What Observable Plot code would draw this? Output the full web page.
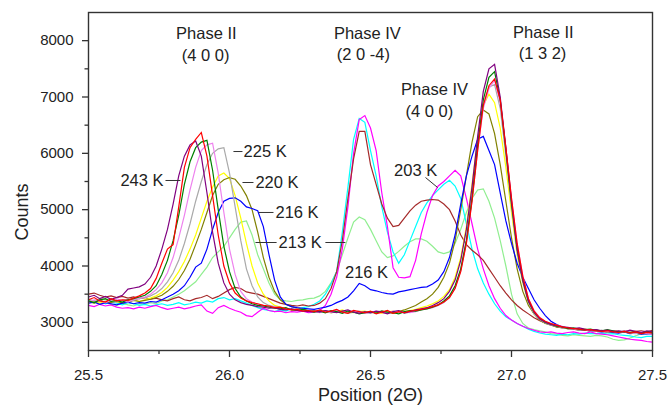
<!DOCTYPE html>
<html><head><meta charset="utf-8">
<script src="https://cdn.jsdelivr.net/npm/d3@7"></script>
<script src="https://cdn.jsdelivr.net/npm/@observablehq/plot@0.6"></script>
<style>body{margin:0;background:#fff}#chart{width:670px;height:410px}</style>
</head><body><div id="chart"></div>
<script>
// 2θ sampling positions
const twoTheta = [
25.50,25.52,25.54,25.56,25.58,25.60,25.62,25.64,25.66,25.68,
25.70,25.72,25.74,25.76,25.78,25.80,25.82,25.84,25.86,25.88,
25.90,25.92,25.94,25.96,25.98,26.00,26.02,26.04,26.06,26.08,
26.10,26.12,26.14,26.16,26.18,26.20,26.22,26.24,26.26,26.28,
26.30,26.32,26.34,26.36,26.38,26.40,26.42,26.44,26.46,26.48,
26.50,26.52,26.54,26.56,26.58,26.60,26.62,26.64,26.66,26.68,
26.70,26.72,26.74,26.76,26.78,26.80,26.82,26.84,26.86,26.88,
26.90,26.92,26.94,26.96,26.98,27.00,27.02,27.04,27.06,27.08,
27.10,27.12,27.14,27.16,27.18,27.20,27.22,27.24,27.26,27.28,
27.30,27.32,27.34,27.36,27.38,27.40,27.42,27.44,27.46,27.48,
27.50];

// Counts of each scan (one per temperature)
const purple = [
3450,3480,3420,3460,3410,3440,3480,3590,3610,3630,
3680,3800,4000,4300,4650,5100,5600,5950,6150,6220,
5950,5300,4600,4050,3700,3500,3400,3350,3320,3300,
3280,3270,3250,3260,3230,3220,3240,3210,3200,3190,
3200,3180,3210,3190,3170,3200,3220,3180,3160,3190,
3170,3200,3180,3150,3190,3210,3170,3190,3220,3240,
3260,3300,3350,3420,3550,3750,4100,4650,5400,6300,
7100,7500,7580,7000,6100,5150,4300,3750,3380,3180,
3060,3000,2960,2940,2920,2910,2890,2900,2880,2860,
2870,2850,2860,2840,2850,2830,2860,2840,2820,2850,
2830];
const red = [
3400,3440,3380,3360,3420,3380,3400,3390,3430,3470,
3520,3600,3780,4050,4300,4380,5050,5750,6100,6250,
6370,5950,5250,4550,4000,3700,3520,3430,3380,3350,
3330,3300,3290,3260,3270,3240,3220,3230,3200,3210,
3190,3220,3180,3200,3230,3180,3160,3210,3190,3170,
3200,3150,3180,3210,3160,3190,3170,3200,3210,3230,
3250,3280,3310,3360,3440,3600,3900,4400,5150,6050,
6850,7200,7320,6950,6100,5200,4400,3820,3420,3200,
3080,3020,2980,2950,2920,2900,2890,2880,2860,2870,
2850,2840,2850,2830,2820,2840,2810,2830,2800,2820,
2810];
const green = [
3380,3350,3400,3420,3370,3390,3360,3400,3420,3450,
3480,3550,3650,3850,4100,4450,4900,5450,5850,6100,
6200,6230,5700,5000,4350,3900,3600,3450,3380,3330,
3300,3290,3270,3250,3240,3260,3220,3210,3230,3200,
3180,3200,3170,3210,3190,3160,3200,3180,3150,3170,
3190,3160,3200,3180,3170,3150,3190,3210,3200,3220,
3240,3270,3310,3380,3470,3650,3950,4450,5200,6150,
6950,7350,7450,6950,6050,5100,4300,3750,3380,3180,
3070,3000,2970,2930,2920,2890,2900,2880,2870,2880,
2860,2850,2870,2850,2830,2840,2820,2830,2810,2830,
2820];
const violet = [
3360,3400,3380,3350,3390,3420,3380,3360,3400,3430,
3450,3500,3580,3700,3880,4150,4500,4900,5350,5750,
6050,6150,6180,5650,4950,4300,3850,3550,3420,3360,
3320,3300,3280,3270,3250,3230,3240,3220,3200,3210,
3190,3170,3200,3180,3210,3170,3190,3200,3180,3160,
3180,3200,3170,3160,3200,3180,3190,3170,3190,3230,
3240,3260,3300,3360,3450,3620,3920,4400,5150,6050,
6800,7150,7300,6900,6100,5200,4400,3830,3420,3210,
3090,3010,2980,2950,2930,2900,2890,2880,2870,2850,
2860,2840,2850,2840,2830,2850,2830,2810,2830,2800,
2790];
const darkgray = [
3410,3380,3420,3400,3370,3360,3390,3410,3390,3420,
3440,3470,3520,3600,3720,3880,4100,4400,4750,5150,
5500,5800,6000,6080,6100,5650,5050,4450,3950,3650,
3450,3350,3300,3280,3260,3250,3230,3240,3210,3200,
3190,3210,3180,3170,3200,3190,3160,3180,3200,3170,
3160,3190,3200,3170,3180,3200,3160,3180,3200,3220,
3250,3270,3300,3350,3440,3620,3930,4450,5250,6150,
6850,7180,7220,6800,5950,5050,4250,3720,3350,3150,
3050,2990,2950,2930,2900,2890,2880,2860,2870,2850,
2840,2860,2830,2840,2820,2830,2810,2800,2820,2810,
2800];
const yellow = [
3350,3380,3340,3370,3400,3360,3340,3380,3400,3370,
3400,3430,3470,3530,3620,3750,3900,4080,4300,4550,
4850,5150,5400,5600,5650,5550,5250,4850,4400,4000,
3700,3500,3380,3300,3270,3250,3230,3220,3240,3200,
3210,3180,3200,3170,3190,3220,3180,3170,3190,3200,
3170,3190,3160,3180,3200,3170,3190,3210,3230,3260,
3290,3330,3380,3460,3580,3800,4150,4700,5450,6250,
6850,7050,6900,6450,5750,4950,4200,3700,3350,3150,
3050,2990,2960,2940,2920,2900,2880,2870,2880,2860,
2850,2840,2830,2850,2840,2820,2830,2810,2820,2800,
2810];
const olive = [
3370,3340,3390,3360,3350,3380,3340,3360,3390,3370,
3390,3410,3440,3480,3550,3640,3760,3920,4120,4380,
4650,4950,5250,5450,5530,5570,5540,5420,5250,5000,
4600,4150,3800,3550,3400,3320,3280,3250,3230,3210,
3200,3190,3210,3170,3180,3200,3170,3190,3180,3160,
3190,3170,3200,3180,3160,3190,3220,3260,3300,3360,
3420,3500,3620,3800,4050,4450,5000,5600,6200,6650,
6770,6700,6350,5800,5150,4500,3950,3550,3300,3150,
3040,2980,2950,2920,2910,2890,2880,2870,2860,2850,
2860,2840,2830,2820,2840,2830,2810,2820,2800,2810,
2800];
const blue = [
3340,3360,3320,3350,3330,3310,3340,3360,3330,3350,
3340,3370,3360,3400,3450,3500,3560,3650,3800,3980,
4050,4300,4650,4950,5150,5200,5210,5150,5050,5020,
4980,4700,4200,3750,3450,3320,3280,3260,3250,3240,
3230,3250,3270,3300,3350,3390,3450,3560,3690,3650,
3580,3560,3530,3510,3500,3540,3560,3580,3600,3620,
3630,3680,3750,3900,4150,4550,5100,5600,5950,6250,
6300,6050,5800,5300,4800,4400,4050,3800,3600,3400,
3250,3120,3020,2960,2920,2900,2880,2870,2860,2850,
2840,2830,2840,2820,2810,2830,2800,2810,2790,2800,
2790];
const lightgreen = [
3380,3350,3330,3360,3320,3300,3340,3310,3290,3330,
3320,3350,3330,3380,3400,3450,3500,3560,3640,3720,
3850,3980,4150,4250,4350,4500,4650,4780,4800,4550,
4200,3950,3700,3500,3400,3380,3370,3390,3400,3420,
3430,3470,3550,3700,3900,4200,4500,4780,4870,4820,
4650,4450,4250,4150,4180,4260,4350,4430,4480,4480,
4440,4350,4250,4220,4250,4400,4650,4950,5200,5350,
5370,5150,4850,4450,4000,3500,3150,2980,2900,2870,
2850,2830,2800,2790,2770,2760,2780,2770,2760,2750,
2770,2760,2740,2700,2680,2690,2720,2760,2800,2790,
2840];
const brown = [
3500,3520,3480,3450,3470,3440,3460,3430,3450,3420,
3440,3410,3430,3400,3380,3420,3450,3400,3380,3420,
3440,3480,3420,3460,3520,3580,3620,3600,3540,3520,
3500,3460,3420,3380,3340,3320,3300,3290,3310,3290,
3300,3340,3420,3600,3900,4450,5200,5900,6390,6390,
5800,5450,5100,4850,4700,4720,4850,4980,5080,5150,
5170,5180,5170,5100,5000,4800,4550,4380,4280,4200,
4100,3950,3800,3650,3520,3400,3300,3220,3150,3080,
3030,2990,2960,2920,2900,2890,2880,2860,2870,2850,
2840,2850,2830,2840,2820,2850,2830,2840,2850,2830,
2860];
const cyan = [
3380,3350,3400,3330,3360,3340,3310,3350,3330,3300,
3320,3290,3310,3330,3300,3320,3350,3310,3330,3360,
3340,3380,3360,3420,3440,3400,3420,3380,3340,3300,
3260,3230,3210,3190,3220,3200,3240,3230,3260,3280,
3320,3380,3500,3680,3900,4600,5400,6250,6620,6550,
6050,5600,5050,4600,4250,4050,4200,4450,4700,4950,
5120,5250,5350,5450,5520,5420,5200,4750,4300,3950,
3700,3500,3330,3200,3100,3040,2980,2930,2880,2840,
2810,2790,2780,2770,2790,2780,2800,2790,2810,2800,
2800,2810,2790,2800,2780,2770,2760,2740,2730,2750,
2750];
const magenta = [
3300,3280,3320,3290,3310,3270,3250,3260,3240,3270,
3250,3280,3300,3260,3230,3250,3270,3240,3260,3290,
3310,3200,3160,3260,3300,3250,3210,3180,3120,3100,
3180,3250,3210,3190,3200,3170,3190,3180,3200,3170,
3180,3210,3300,3500,3800,4300,5050,6000,6600,6670,
6450,6050,5300,4700,3970,3800,3790,3810,4100,4570,
4950,5250,5420,5500,5600,5700,5600,5200,4750,4300,
3950,3650,3420,3250,3120,3040,2980,2930,2890,2860,
2830,2820,2830,2810,2800,2820,2830,2810,2800,2830,
2800,2790,2780,2760,2740,2720,2700,2690,2680,2660,
2650];

// draw order (bottom to top) and colours
const seriesNames  = ["lightgreen","cyan","magenta","brown","yellow","olive","blue","darkgray","violet","green","purple","red"];
const seriesValues = [lightgreen, cyan, magenta, brown, yellow, olive, blue, darkgray, violet, green, purple, red];
const seriesColors = ["#3ad83a","#2ee2f0","#ee3ee0","#8e4632","#f0e61c","#9c8c50","#3232dc","#333333","#9050f0","#22922e","#8a1aa6","#e8141e"];

const xTicks = [25.5, 26.0, 26.5, 27.0, 27.5];
const xMinorTicks = [25.75, 26.25, 26.75, 27.25];
const yTicks = [3000, 4000, 5000, 6000, 7000, 8000];
const yMinorTicks = [3500, 4500, 5500, 6500, 7500];

// annotation texts
const phaseText = ["Phase II", "(4 0 0)", "Phase IV", "(2 0 -4)", "Phase II", "(1 3 2)", "Phase IV", "(4 0 0)"];
const phaseX    = [25.918, 25.915, 26.489, 26.475, 27.113, 27.110, 26.727, 26.709];
const phaseY    = [8127, 7736, 8127, 7754, 8145, 7772, 7133, 6742];

const tempText   = ["225 K", "220 K", "216 K", "213 K"];
const tempX      = [26.050, 26.092, 26.163, 26.174];
const tempY      = [6032, 5482, 4950, 4417];
const tempEndText = ["243 K"];
const tempEndX    = [25.766];
const tempEndY    = [5518];
const tempMidText = ["216 K", "203 K"];
const tempMidX    = [26.486, 26.660];
const tempMidY    = [3885, 5697];

const leaderX1 = [25.773, 26.014, 26.046, 26.103, 26.092, 26.340, 26.695];
const leaderX2 = [25.826, 26.046, 26.085, 26.156, 26.167, 26.411, 26.738];
const leaderY1 = [5518, 6032, 5482, 4950, 4417, 4417, 5571];
const leaderY2 = [5518, 6032, 5482, 4950, 4417, 4417, 5393];

// axis titles (placed just outside the frame)
const xTitle = "Position (2Θ)";
const yTitle = "Counts";
const yTitleAt = {x: 25.266, y: 4960};

const rows = seriesValues.flatMap((vals, s) => twoTheta.map((x, i) => ({x, y: vals[i], name: seriesNames[s]})));
const mk = (t, xs, ys) => t.map((text, i) => ({text, x: xs[i], y: ys[i]}));
const leaders = leaderX1.map((_, i) => ({x1: leaderX1[i], x2: leaderX2[i], y1: leaderY1[i], y2: leaderY2[i]}));

const font = "'Liberation Sans', Arial, Helvetica, sans-serif";
const ink = "#222";

const chart = Plot.plot({
  width: 670, height: 410,
  marginLeft: 88, marginRight: 18, marginTop: 12, marginBottom: 60,
  x: {domain: [25.5, 27.5]},
  y: {domain: [2500, 8500]},
  color: {domain: seriesNames, range: seriesColors},
  style: {fontFamily: font, fontSize: "15px", color: ink, background: "#fff"},
  marks: [
    Plot.line(rows, {x: "x", y: "y", z: "name", stroke: "name", strokeWidth: 1.2, strokeLinejoin: "miter", strokeMiterlimit: 10}),
    Plot.frame({stroke: "#333", strokeWidth: 1.4}),
    Plot.axisX(xTicks, {tickSize: 7, tickPadding: 12, tickFormat: d3.format(".1f"), fontSize: 15, label: null, stroke: "#333", strokeWidth: 1.3}),
    Plot.axisX(xMinorTicks, {tickSize: 4, tickFormat: () => "", label: null, stroke: "#333", strokeWidth: 1.3}),
    Plot.axisY(yTicks, {tickSize: 6, tickPadding: 9, tickFormat: d3.format("d"), fontSize: 15, label: null, stroke: "#333", strokeWidth: 1.3}),
    Plot.axisY(yMinorTicks, {tickSize: 3.5, tickFormat: () => "", label: null, stroke: "#333", strokeWidth: 1.3}),
    Plot.text([xTitle], {frameAnchor: "bottom", dy: 50, fontSize: 18, fill: ink}),
    Plot.text([yTitle], {x: () => yTitleAt.x, y: () => yTitleAt.y, rotate: -90, fontSize: 18, fill: ink, clip: false}),
    Plot.text(mk(phaseText, phaseX, phaseY), {x: "x", y: "y", text: "text", fontSize: 16.5, fill: ink}),
    Plot.text(mk(tempText, tempX, tempY), {x: "x", y: "y", text: "text", textAnchor: "start", fontSize: 16.5, fill: ink}),
    Plot.text(mk(tempEndText, tempEndX, tempEndY), {x: "x", y: "y", text: "text", textAnchor: "end", fontSize: 16.5, fill: ink}),
    Plot.text(mk(tempMidText, tempMidX, tempMidY), {x: "x", y: "y", text: "text", fontSize: 16.5, fill: ink}),
    Plot.link(leaders, {x1: "x1", y1: "y1", x2: "x2", y2: "y2", stroke: "#333", strokeWidth: 1})
  ]
});
document.getElementById("chart").append(chart);
</script>
</body></html>
